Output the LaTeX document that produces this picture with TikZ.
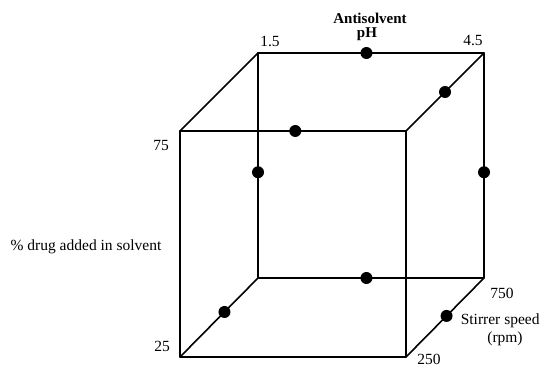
\documentclass[tikz,border=0pt]{standalone}
\usepackage{fontspec}
\setmainfont{Liberation Serif}
\usetikzlibrary{calc}
\begin{document}
\begin{tikzpicture}[x=1pt,y=-1pt,font=\fontsize{15.5}{17}\selectfont, line join=round, line cap=round, line width=1.6pt]
	\useasboundingbox (0,0) rectangle (541,366);
	% corners of the cube
	\coordinate (A) at (180,357); \coordinate (B) at (406,357);
	\coordinate (C) at (406,131); \coordinate (D) at (180,131);
	\coordinate (E) at (258,278); \coordinate (F) at (484,278);
	\coordinate (G) at (484,53);  \coordinate (H) at (258,53);
	\draw (A)--(B)--(C)--(D)--cycle;
	\draw (E)--(F)--(G)--(H)--cycle;
	\draw (A)--(E) (B)--(F) (C)--(G) (D)--(H);
	% design points on the edges
	\foreach \p/\q/\t in {H/G/.48, C/G/.5, D/C/.51, H/E/.53, G/F/.53, E/F/.48, A/E/.57, B/F/.52}{
		\fill ($(\p)!\t!(\q)$) circle(6);}
	\node[font=\fontsize{15}{17}\selectfont\bfseries] at (370,18) {Antisolvent};
	\node[font=\fontsize{15}{17}\selectfont\bfseries] at (367,34) {pH};
	\node at (270,41) {1.5};
	\node at (473,41) {4.5};
	\node at (161,146) {75};
	\node at (86,247) {\% drug added in solvent};
	\node at (162,346) {25};
	\node at (502,293) {750};
	\node[right,inner sep=0pt] at (460,321) {Stirrer speed};
	\node at (505,339) {(rpm)};
	\node[inner sep=0pt] at (429,359) {250};
\end{tikzpicture}
\end{document}
